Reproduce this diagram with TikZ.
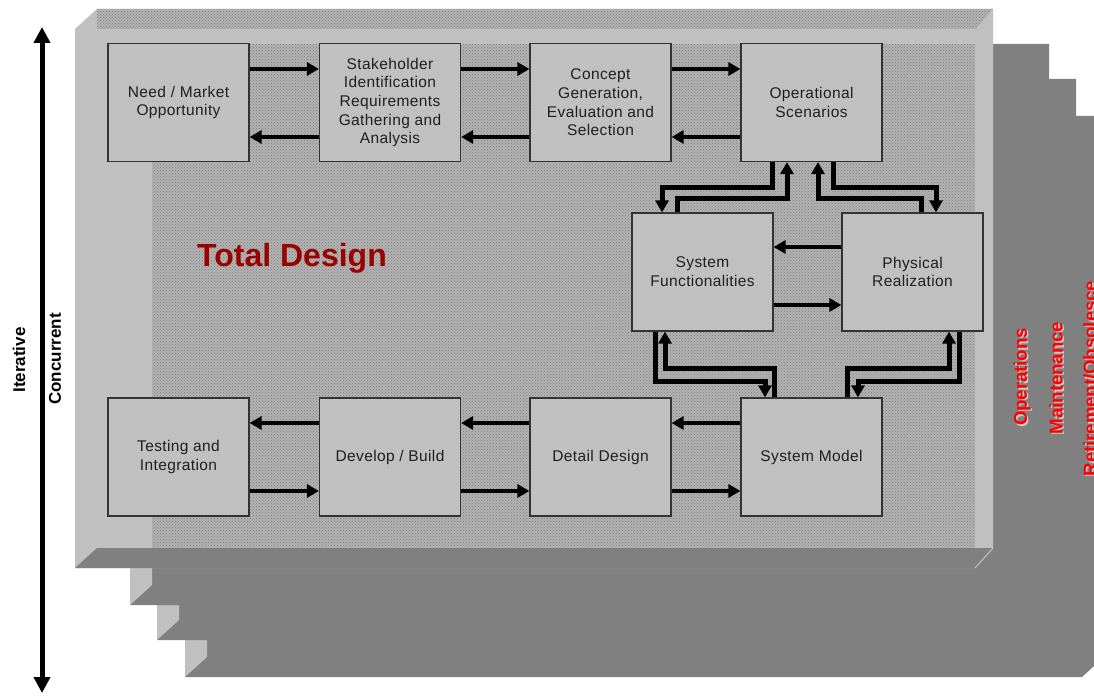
\documentclass[tikz,border=0pt]{standalone}
\usepackage{fontspec}
\setmainfont{Liberation Sans}
\usetikzlibrary{arrows.meta,patterns,calc}
\definecolor{lg}{HTML}{C0C0C0}
\definecolor{dg}{HTML}{808080}
\definecolor{dotbg}{HTML}{B2B2B2}
\definecolor{dotfg}{HTML}{7E7E7E}
\definecolor{tdred}{HTML}{990000}
\definecolor{shadowc}{HTML}{C8C8C8}
\tikzset{
  box/.style={draw=black!80, line width=1.2pt, fill=lg, minimum width=141pt, minimum height=118pt,
    inner sep=0pt, align=center, font=\fontsize{15.5}{18.7}\selectfont\addfontfeature{LetterSpace=2.5}, text=black!88},
  harr/.style={line width=4.5pt, -{Triangle[length=12pt,width=13pt]}},
  varr/.style={line width=5pt, -{Triangle[length=12pt,width=13pt]}},
  redlbl/.style={rotate=90, text=red, font=\bfseries\fontsize{18.5}{20}\selectfont, inner sep=0pt},
  redshadow/.style={rotate=90, text=shadowc, font=\bfseries\fontsize{18.5}{20}\selectfont, inner sep=0pt},
  sidelbl/.style={rotate=90, font=\bfseries\fontsize{17}{20}\selectfont, inner sep=0pt}
}
\begin{document}
\begin{tikzpicture}[x=1pt,y=-1pt]
\useasboundingbox (0,0) rectangle (1094,700);
\begin{scope}
\clip (0,0) rectangle (1094,700);
% back plates
\foreach \L/\T in {185/116, 157/79, 130/44} {
  \fill[dg] (\L,\T+20) -- (\L+22,\T) -- (\L+919,\T) -- (\L+919,\T+541) -- (\L+897,\T+561) -- (\L,\T+561) -- cycle;
  \fill[lg] (\L,\T+20) -- (\L+22,\T) -- (\L+22,\T+541) -- (\L,\T+561) -- cycle;
}
% front plate
\fill[lg] (75,29) -- (97,9) -- (993,9) -- (993,548) -- (975,568) -- (75,568) -- cycle;
\fill[dg] (75,568) -- (97,548) -- (993,548) -- (975,568) -- cycle;
\draw[lg, line width=1pt] (993,548) -- (975,568);
\fill[dotbg] (97,9) -- (993,9) -- (975,29) -- (97,29) -- cycle;
\fill[dotbg] (152,44) rectangle (975,548);
\fill[pattern=crosshatch dots, pattern color=dotfg] (97,9) -- (993,9) -- (975,29) -- (97,29) -- cycle;
\fill[pattern=crosshatch dots, pattern color=dotfg] (152,44) rectangle (975,548);

% red side labels (the third one is cut off by the right edge, as in the reference)
\node[redshadow] at (1023.5,378.5) {Operations};
\node[redlbl] (ops) at (1022,377) {Operations};
\node[redshadow] at (1057.5,379.5) {Maintenance};
\node[redlbl] (mnt) at (1056,378) {Maintenance};
\node[redshadow] at (1091.5,380) {Retirement/Obsolesce};
\node[redlbl] (ret) at (1090,378.5) {Retirement/Obsolesce};
\end{scope}

% left axis
\coordinate (atop) at (42,27);
\coordinate (abot) at (42,693);
\draw[line width=5pt, {Triangle[length=16pt,width=16pt]}-{Triangle[length=16pt,width=16pt]}] (atop) -- (abot);
\node[sidelbl] (iter) at (19,360) {Iterative};
\node[sidelbl] (conc) at (55,359) {Concurrent};

% title
\node[text=tdred, font=\bfseries\fontsize{32}{36}\selectfont, inner sep=0pt, anchor=base] (td) at (292,267) {Total Design};

% boxes
\node[box] (need) at (178.5,102.5) {Need / Market\\Opportunity};
\node[box] (stake) at (390,102.5) {Stakeholder\\Identification\\Requirements\\Gathering and\\Analysis};
\node[box] (concept) at (600.5,102.5) {Concept\\Generation,\\Evaluation and\\Selection};
\node[box] (os) at (811.5,102.5) {Operational\\Scenarios};
\node[box] (sf) at (702.5,272) {System\\Functionalities};
\node[box] (pr) at (912.5,272) {Physical\\Realization};
\node[box] (test) at (178.5,457) {Testing and\\Integration};
\node[box] (dev) at (390,457) {Develop / Build};
\node[box] (detail) at (600.5,457) {Detail Design};
\node[box] (sm) at (811.5,457) {System Model};

% top row arrows
\foreach \a/\b in {need/stake, stake/concept, concept/os} {
  \draw[harr] ([yshift=33.5pt]\a.east) -- ([yshift=33.5pt]\b.west);
  \draw[harr] ([yshift=-34.5pt]\b.west) -- ([yshift=-34.5pt]\a.east);
}
% bottom row arrows
\foreach \a/\b in {test/dev, dev/detail, detail/sm} {
  \draw[harr] ([yshift=34pt]\b.west) -- ([yshift=34pt]\a.east);
  \draw[harr] ([yshift=-34pt]\a.east) -- ([yshift=-34pt]\b.west);
}
% middle pair
\draw[harr] ([yshift=25pt]pr.west) -- ([yshift=25pt]sf.east);
\draw[harr] ([yshift=-33pt]sf.east) -- ([yshift=-33pt]pr.west);

% upper vertical connectors
\draw[varr] ([xshift=-39.5pt]os.south) -- ++(0,25.5) -| ([xshift=-40.5pt]sf.north);
\draw[varr] ([xshift=-25.5pt]sf.north) -- ++(0,-14) -| ([xshift=-24.5pt]os.south);
\draw[varr] ([xshift=8.5pt]pr.north) -- ++(0,-14) -| ([xshift=6.5pt]os.south);
\draw[varr] ([xshift=21.5pt]os.south) -- ++(0,25.5) -| ([xshift=23.5pt]pr.north);
% lower vertical connectors
\draw[varr] ([xshift=-47.5pt]sf.south) -- ++(0,50) -| ([xshift=-46.5pt]sm.north);
\draw[varr] ([xshift=-37.5pt]sm.north) -- ++(0,-29) -| ([xshift=-37.5pt]sf.south);
\draw[varr] ([xshift=35.5pt]sm.north) -- ++(0,-29) -| ([xshift=36.5pt]pr.south);
\draw[varr] ([xshift=46.5pt]pr.south) -- ++(0,50) -| ([xshift=46.5pt]sm.north);
\end{tikzpicture}
\end{document}
